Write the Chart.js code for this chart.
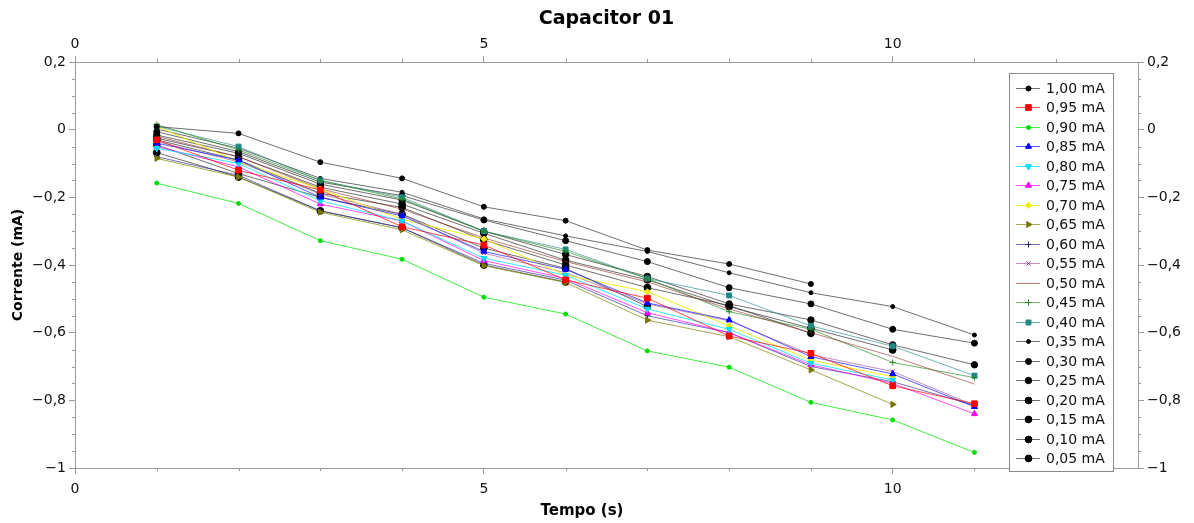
<!DOCTYPE html>
<html>
<head>
<meta charset="utf-8">
<script src="https://cdn.jsdelivr.net/npm/chart.js@4/dist/chart.umd.min.js"></script>
<style>
html,body{margin:0;padding:0;background:#fff;}
canvas{display:block;}
</style>
</head>
<body>
<canvas id="c" width="1194" height="523"></canvas>
<script>
// ---- data ----
const times = [1, 2, 3, 4, 5, 6, 7, 8, 9, 10, 11];
const seriesLabels = ["1,00 mA","0,95 mA","0,90 mA","0,85 mA","0,80 mA","0,75 mA","0,70 mA","0,65 mA","0,60 mA","0,55 mA","0,50 mA","0,45 mA","0,40 mA","0,35 mA","0,30 mA","0,25 mA","0,20 mA","0,15 mA","0,10 mA","0,05 mA"];
const i100 = [0.009, -0.011, -0.096, -0.144, -0.228, -0.269, -0.356, -0.397, -0.456];
const i095 = [-0.03, -0.12, -0.178, -0.287, -0.341, -0.444, -0.498, -0.61, -0.661, -0.757, -0.81];
const i090 = [-0.158, -0.218, -0.328, -0.383, -0.495, -0.545, -0.654, -0.702, -0.806, -0.858, -0.954];
const i085 = [-0.04, -0.09, -0.2, -0.255, -0.36, -0.413, -0.512, -0.5625, -0.671, -0.722, -0.819];
const i080 = [-0.055, -0.1, -0.21, -0.27, -0.38, -0.43, -0.53, -0.59, -0.69, -0.74];
const i075 = [-0.05, -0.11, -0.22, -0.27, -0.387, -0.44, -0.541, -0.6, -0.695, -0.75, -0.84];
const i070 = [0.01, -0.095, -0.175, -0.265, -0.323, -0.43, -0.479, -0.58, -0.681, -0.73];
const i065 = [-0.085, -0.14, -0.244, -0.296, -0.402, -0.452, -0.563, -0.612, -0.71, -0.812];
const i060 = [-0.08, -0.135, -0.24, -0.29, -0.395, -0.445, -0.55, -0.6, -0.7, -0.745, -0.815];
const i055 = [-0.035, -0.095, -0.19, -0.25, -0.365, -0.423, -0.515, -0.565, -0.665, -0.715, -0.815];
const i050 = [-0.02, -0.08, -0.175, -0.235, -0.32, -0.39, -0.45, -0.53, -0.6, -0.67, -0.752];
const i045 = [0.015, -0.06, -0.15, -0.205, -0.3, -0.36, -0.44, -0.538, -0.59, -0.688, -0.733];
const i040 = [0.01, -0.05, -0.15, -0.2, -0.3, -0.354, -0.44, -0.49, -0.58, -0.64, -0.727];
const i035 = [0.002, -0.055, -0.144, -0.185, -0.264, -0.314, -0.36, -0.423, -0.482, -0.523, -0.607];
const i030 = [-0.006, -0.065, -0.155, -0.195, -0.267, -0.328, -0.39, -0.467, -0.515, -0.59, -0.631];
const i025 = [-0.016, -0.07, -0.161, -0.208, -0.3, -0.369, -0.434, -0.515, -0.5625, -0.636, -0.695];
const i020 = [-0.025, -0.08, -0.17, -0.22, -0.306, -0.386, -0.444, -0.523, -0.587, -0.651];
const i015 = [-0.03, -0.09, -0.188, -0.23, -0.326, -0.4, -0.467, -0.52, -0.602];
const i010 = [-0.045, -0.13, -0.2, -0.25, -0.35, -0.41, -0.523];
const i005 = [-0.068, -0.14, -0.24, -0.29, -0.4, -0.45];
const xTicks = [0, 5, 10];
const yTicks = [0.2, 0, -0.2, -0.4, -0.6, -0.8, -1];

// ---- styles ----
const seriesValues = [i100,i095,i090,i085,i080,i075,i070,i065,i060,i055,i050,i045,i040,i035,i030,i025,i020,i015,i010,i005];
const GRAY = 'rgba(50,50,50,0.7)';
const styles = [
  {line: GRAY, pt: '#000', ps: 'circle', r: 2.5, rot: 0},
  {line: 'rgba(255,0,0,0.7)', pt: '#f00', ps: 'rect', r: 4, rot: 0},
  {line: 'rgba(0,230,0,0.75)', pt: '#0d0', ps: 'circle', r: 2, rot: 0},
  {line: 'rgba(0,0,255,0.65)', pt: '#00f', ps: 'triangle', r: 3.5, rot: 0},
  {line: 'rgba(0,230,255,0.8)', pt: '#0df', ps: 'triangle', r: 3.5, rot: 180},
  {line: 'rgba(255,0,255,0.7)', pt: '#f0f', ps: 'triangle', r: 3.5, rot: 0},
  {line: 'rgba(240,240,0,0.9)', pt: '#ee0', ps: 'rectRot', r: 3, rot: 0},
  {line: 'rgba(128,128,0,0.7)', pt: '#770', ps: 'triangle', r: 3.5, rot: 90},
  {line: 'rgba(40,40,150,0.65)', pt: '#226', ps: 'cross', r: 3, rot: 0},
  {line: 'rgba(140,50,140,0.55)', pt: '#848', ps: 'crossRot', r: 3, rot: 0},
  {line: 'rgba(150,40,40,0.6)', pt: '#933', ps: false, r: 0, rot: 0},
  {line: 'rgba(30,140,30,0.65)', pt: '#282', ps: 'cross', r: 3, rot: 0},
  {line: 'rgba(40,140,140,0.65)', pt: '#288', ps: 'rect', r: 3.5, rot: 0},
  {line: GRAY, pt: '#000', ps: 'circle', r: 2, rot: 0},
  {line: GRAY, pt: '#000', ps: 'circle', r: 3, rot: 0},
  {line: GRAY, pt: '#000', ps: 'circle', r: 3.2, rot: 0},
  {line: GRAY, pt: '#000', ps: 'circle', r: 3.4, rot: 0},
  {line: GRAY, pt: '#000', ps: 'circle', r: 3.4, rot: 0},
  {line: GRAY, pt: '#000', ps: 'circle', r: 3.4, rot: 0},
  {line: GRAY, pt: '#000', ps: 'circle', r: 3.4, rot: 0}
];

const FONT = "'DejaVu Sans', Verdana, sans-serif";
const AXIS = '#9a9a9a';

const datasets = seriesValues.map((vals, k) => {
  const s = styles[k];
  return {
    label: seriesLabels[k],
    data: vals.map((v, i) => ({x: times[i], y: v})),
    borderColor: s.line,
    borderWidth: 1,
    backgroundColor: s.pt,
    pointBackgroundColor: s.pt,
    pointBorderColor: s.pt,
    pointBorderWidth: 1,
    pointStyle: s.ps === false ? 'circle' : s.ps,
    pointRadius: s.r,
    pointRotation: s.rot,
    pointHoverRadius: s.r,
    tension: 0,
    fill: false
  };
});

function fmt(v) {
  const r = Math.round(v * 10) / 10;
  if (r === 0) return '0';
  let t = String(Math.abs(r)).replace('.', ',');
  return (r < 0 ? '\u2212' : '') + t;
}

// minor ticks + x axis title (positions from the library's scales)
const minorTicks = {
  id: 'minorTicks',
  afterDraw(chart) {
    const ctx = chart.ctx;
    const a = chart.chartArea;
    const sx = chart.scales.x, sy = chart.scales.y;
    ctx.save();
    ctx.strokeStyle = AXIS;
    ctx.lineWidth = 1;
    ctx.beginPath();
    for (let v = 1; v < 13; v++) {
      if (v % 5 === 0) continue;
      const px = Math.round(sx.getPixelForValue(v)) + 0.5;
      ctx.moveTo(px, a.bottom); ctx.lineTo(px, a.bottom + 3);
      ctx.moveTo(px, a.top); ctx.lineTo(px, a.top - 3);
    }
    for (let k = -19; k < 4; k++) {
      if (k % 4 === 0) continue;
      const v = k * 0.05;
      const py = Math.round(sy.getPixelForValue(v)) + 0.5;
      ctx.moveTo(a.left, py); ctx.lineTo(a.left - 3, py);
      ctx.moveTo(a.right, py); ctx.lineTo(a.right + 3, py);
    }
    ctx.stroke();
    // x axis title
    ctx.fillStyle = '#000';
    ctx.font = 'bold 15px ' + FONT;
    ctx.textAlign = 'center';
    ctx.textBaseline = 'middle';
    ctx.fillText('Tempo (s)', sx.getPixelForValue(6.2), 511);
    ctx.restore();
  }
};

// boxed legend inside the plot area, built from the datasets
const boxLegend = {
  id: 'boxLegend',
  afterDraw(chart) {
    const ctx = chart.ctx;
    const a = chart.chartArea;
    const left = a.right - 129, top = a.top + 11, w = 104, h = 398;
    ctx.save();
    ctx.fillStyle = '#fff';
    ctx.fillRect(left, top, w, h);
    ctx.strokeStyle = '#8a8a8a';
    ctx.lineWidth = 1;
    ctx.strokeRect(left + 0.5, top + 0.5, w, h);
    ctx.font = '14px ' + FONT;
    ctx.textBaseline = 'middle';
    ctx.textAlign = 'left';
    chart.data.datasets.forEach((ds, i) => {
      const s = styles[i];
      const cy = Math.round(top + 14.5 + i * 19.5) + 0.5;
      ctx.strokeStyle = s.line;
      ctx.lineWidth = 1;
      ctx.beginPath();
      ctx.moveTo(left + 7, cy); ctx.lineTo(left + 31, cy);
      ctx.stroke();
      if (s.ps !== false && Chart.helpers && Chart.helpers.drawPoint) {
        ctx.fillStyle = s.pt; ctx.strokeStyle = s.pt;
        Chart.helpers.drawPoint(ctx, {pointStyle: s.ps, radius: s.r, rotation: s.rot, borderWidth: 1}, left + 19.5, cy);
      }
      ctx.fillStyle = '#111';
      ctx.fillText(ds.label, left + 37, cy + 1);
    });
    ctx.restore();
  }
};

const tickFont = {family: FONT, size: 14};
const gridOpts = {display: true, drawOnChartArea: false, drawTicks: true, tickLength: 6, tickColor: AXIS, color: AXIS};
const borderOpts = {display: true, color: AXIS, width: 1};

new Chart(document.getElementById('c'), {
  type: 'line',
  data: {datasets},
  plugins: [minorTicks, boxLegend],
  options: {
    responsive: false,
    animation: false,
    events: [],
    layout: {padding: 0},
    plugins: {
      legend: {display: false},
      tooltip: {enabled: false},
      title: {
        display: true,
        fullSize: false,
        text: 'Capacitor 01',
        color: '#000',
        font: {family: FONT, size: 19, weight: 'bold'},
        padding: {top: 8, bottom: 2}
      }
    },
    scales: {
      x: {
        type: 'linear', position: 'bottom', min: 0, max: 13,
        afterBuildTicks(s) { s.ticks = xTicks.map(v => ({value: v})); },
        ticks: {font: tickFont, color: '#111', padding: 7, maxRotation: 0, callback: v => fmt(v)},
        grid: gridOpts, border: borderOpts,
        afterFit(s) { s.height = 55; }
      },
      x2: {
        type: 'linear', position: 'top', min: 0, max: 13,
        afterBuildTicks(s) { s.ticks = xTicks.map(v => ({value: v})); },
        ticks: {font: tickFont, color: '#111', padding: 3, maxRotation: 0, callback: v => fmt(v)},
        grid: gridOpts, border: borderOpts,
        afterFit(s) { s.height = 29.2; }
      },
      y: {
        type: 'linear', position: 'left', min: -1, max: 0.2,
        afterBuildTicks(s) { s.ticks = yTicks.map(v => ({value: v})); },
        ticks: {font: tickFont, color: '#111', padding: 3, callback: v => fmt(v)},
        grid: gridOpts, border: borderOpts,
        title: {display: true, text: 'Corrente (mA)', color: '#000', font: {family: FONT, size: 14, weight: 'bold'}, padding: {top: 10, bottom: 0}},
        afterFit(s) { s.width = 75; }
      },
      y2: {
        type: 'linear', position: 'right', min: -1, max: 0.2,
        afterBuildTicks(s) { s.ticks = yTicks.map(v => ({value: v})); },
        ticks: {font: tickFont, color: '#111', padding: 3, callback: v => fmt(v)},
        grid: gridOpts, border: borderOpts,
        afterFit(s) { s.width = 56; }
      }
    }
  }
});
</script>
</body>
</html>
